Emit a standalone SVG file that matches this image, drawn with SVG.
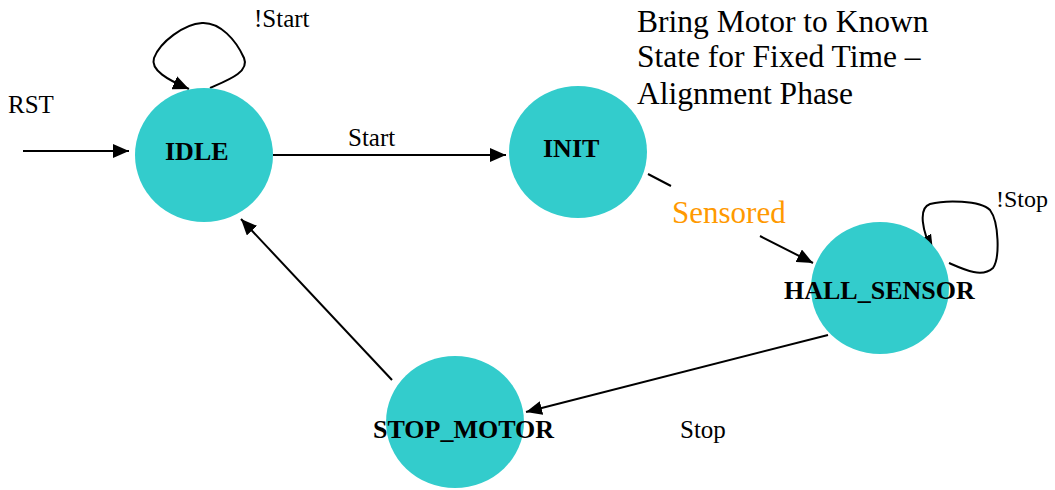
<svg xmlns="http://www.w3.org/2000/svg" width="1055" height="490" viewBox="0 0 1055 490">
<defs>
<marker id="ah" viewBox="0 0 16 14" refX="16" refY="7" markerWidth="16" markerHeight="14" markerUnits="userSpaceOnUse" orient="auto">
<path d="M0,0 L16,7 L0,14 z" fill="#000"/>
</marker>
</defs>
<style>
.st{fill:#33CCCC;stroke:none}
.tx{font-family:'Times New Roman','Liberation Serif','DejaVu Serif',serif}
.nl{font-weight:bold;font-size:26px;fill:#000}
.lb{font-size:25px;fill:#000}
.cn{fill:none;stroke:#000;stroke-width:2;marker-end:url(#ah)}
</style>
<rect width="1055" height="490" fill="#fff"/>
<g id="connectors">
<path class="cn" d="M23,151 L129,151"/>
<path class="cn" d="M273,155 L506,155"/>
<path class="cn" d="M210,88 C228,80 250,72 244,58 C236,40 220,22 202,23 C184,24 160,42 154,58 C150,70 168,80 189,89"/>
<path class="cn" d="M648,174 L671,186 M760,236 L813,263"/>
<path class="cn" d="M949,263 C965,270 982,278 993,268 C1000,258 999,222 990,210 C980,200 945,200 930,204 C918,208 922,232 933,251"/>
<path class="cn" d="M828,335 L526,412"/>
<path class="cn" d="M392,380 L241,219"/>
</g>
<g id="idle">
<ellipse class="st" cx="204" cy="155" rx="69" ry="67"/>
<text class="tx nl" x="165" y="160">IDLE</text>
</g>
<g id="init">
<ellipse class="st" cx="578" cy="152" rx="69" ry="66"/>
<text class="tx nl" x="543" y="157">INIT</text>
</g>
<g id="hall_sensor">
<ellipse class="st" cx="880" cy="288" rx="69" ry="66"/>
<text class="tx nl" x="784" y="299">HALL_SENSOR</text>
</g>
<g id="stop_motor">
<ellipse class="st" cx="455" cy="422" rx="69" ry="66"/>
<text class="tx nl" x="373" y="438">STOP_MOTOR</text>
</g>
<g id="labels">
<text class="tx lb" x="8" y="113">RST</text>
<text class="tx lb" x="254" y="27">!Start</text>
<text class="tx lb" x="348" y="146">Start</text>
<text class="tx lb" x="996" y="207" style="font-size:24px">!Stop</text>
<text class="tx lb" x="680" y="438">Stop</text>
<text class="tx" x="672" y="223" style="font-size:31px;fill:#FF9900">Sensored</text>
<text class="tx" style="font-size:31.5px;fill:#000">
<tspan x="637" y="32">Bring Motor to Known</tspan>
<tspan x="637" y="67">State for Fixed Time –</tspan>
<tspan x="637" y="104">Alignment Phase</tspan>
</text>
</g>
</svg>
